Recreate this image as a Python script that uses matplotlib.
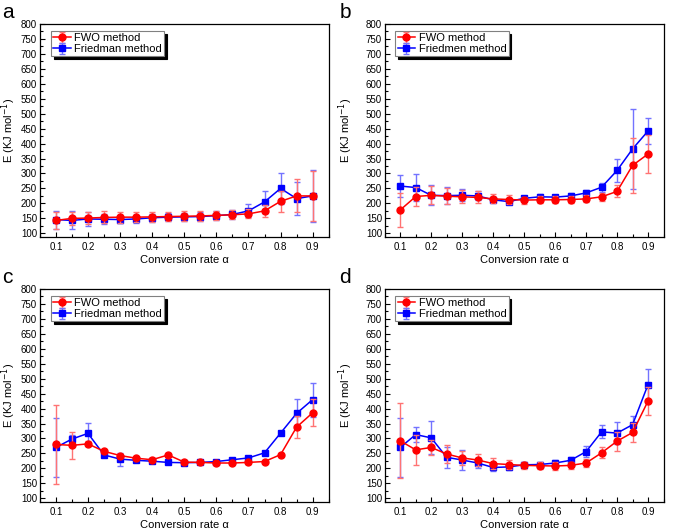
import numpy as np
import matplotlib
matplotlib.use("Agg")
import matplotlib.pyplot as plt
from matplotlib.ticker import MultipleLocator

alpha = [0.1, 0.15, 0.2, 0.25, 0.3, 0.35, 0.4, 0.45, 0.5, 0.55, 0.6, 0.65, 0.7, 0.75, 0.8, 0.85, 0.9]

# panel a
fwo_a = [143, 150, 151, 153, 154, 154, 155, 156, 157, 158, 160, 162, 165, 175, 207, 225, 225]
fwo_a_err = [28, 22, 21, 20, 18, 17, 16, 16, 16, 16, 15, 15, 15, 20, 35, 55, 83]
fri_a = [146, 143, 148, 147, 146, 148, 152, 154, 155, 156, 159, 163, 175, 205, 250, 216, 225]
fri_a_err = [30, 30, 22, 16, 12, 14, 14, 14, 14, 14, 14, 16, 22, 37, 52, 55, 88]

# panel b
fwo_b = [178, 223, 227, 224, 222, 220, 215, 213, 211, 212, 212, 213, 215, 222, 240, 327, 365]
fwo_b_err = [58, 33, 30, 27, 22, 20, 15, 15, 12, 12, 12, 12, 12, 13, 20, 92, 65]
fri_b = [258, 253, 227, 226, 227, 225, 212, 206, 217, 222, 221, 225, 235, 254, 310, 382, 442]
fri_b_err = [36, 46, 33, 28, 20, 15, 8, 8, 8, 10, 8, 10, 10, 15, 38, 135, 45]

# panel c
fwo_c = [280, 277, 282, 257, 243, 234, 229, 245, 221, 220, 218, 218, 220, 223, 246, 338, 386]
fwo_c_err = [133, 45, 8, 5, 5, 5, 5, 5, 4, 4, 4, 4, 4, 4, 5, 38, 45]
fri_c = [270, 298, 317, 245, 231, 227, 224, 220, 219, 220, 223, 229, 235, 252, 318, 384, 430]
fri_c_err = [100, 15, 35, 5, 22, 4, 4, 4, 4, 4, 4, 4, 4, 4, 5, 47, 57]

# panel d
fwo_d = [292, 262, 270, 248, 235, 228, 216, 213, 210, 209, 208, 210, 218, 252, 291, 320, 425]
fwo_d_err = [125, 50, 25, 30, 22, 20, 18, 15, 12, 12, 12, 12, 12, 18, 32, 32, 47]
fri_d = [270, 313, 302, 237, 228, 218, 203, 205, 212, 213, 218, 227, 256, 322, 318, 346, 480]
fri_d_err = [100, 25, 55, 35, 35, 18, 12, 10, 10, 8, 10, 10, 18, 22, 37, 30, 52]

panels = [
    ("a", fwo_a, fwo_a_err, fri_a, fri_a_err, "Friedman method"),
    ("b", fwo_b, fwo_b_err, fri_b, fri_b_err, "Friedmen method"),
    ("c", fwo_c, fwo_c_err, fri_c, fri_c_err, "Friedman method"),
    ("d", fwo_d, fwo_d_err, fri_d, fri_d_err, "Friedman method"),
]

# axes boxes in figure fractions [left, bottom, width, height]
boxes = [
    [0.059, 0.553, 0.428, 0.402],
    [0.570, 0.553, 0.413, 0.402],
    [0.059, 0.053, 0.428, 0.402],
    [0.570, 0.053, 0.413, 0.402],
]
label_pos = [(0.003, 0.995), (0.503, 0.995), (0.003, 0.495), (0.503, 0.495)]
ylab_x = [-0.075, -0.105, -0.075, -0.105]

plt.rcParams['font.family'] = ['Liberation Sans', 'DejaVu Sans']

fig = plt.figure(figsize=(6.75, 5.3), dpi=100)

for (name, fwo, fwo_err, fri, fri_err, fri_label), box, lp, yx in zip(panels, boxes, label_pos, ylab_x):
    ax = fig.add_axes(box)
    ax.errorbar(alpha, fwo, yerr=fwo_err, color='red', marker='o', markersize=5,
                linewidth=1.1, ecolor=(1, 0.45, 0.45), elinewidth=1.0, capsize=2.5,
                capthick=1.0, label='FWO method', zorder=3)
    ax.errorbar(alpha, fri, yerr=fri_err, color='blue', marker='s', markersize=4.5,
                linewidth=1.1, ecolor=(0.45, 0.45, 1), elinewidth=1.0, capsize=2.5,
                capthick=1.0, label=fri_label, zorder=2)
    ax.set_xlim(0.05, 0.95)
    ax.set_ylim(88, 800)
    ax.set_xticks(np.arange(0.1, 0.91, 0.1))
    ax.set_xticklabels(["%.1f" % v for v in np.arange(0.1, 0.91, 0.1)])
    ax.set_yticks(np.arange(100, 801, 50))
    ax.xaxis.set_minor_locator(MultipleLocator(0.05))
    ax.yaxis.set_minor_locator(MultipleLocator(25))
    ax.tick_params(which='both', direction='in', top=False, right=False, labelsize=7)
    ax.tick_params(which='major', length=3.5, width=0.8)
    ax.tick_params(which='minor', length=2, width=0.8)
    ax.tick_params(axis='y', pad=2)
    for sp in ax.spines.values():
        sp.set_linewidth(0.9)
    ax.set_xlabel('Conversion rate α', fontsize=8, labelpad=2)
    ax.set_ylabel('E (KJ mol$^{-1}$)', fontsize=8)
    ax.yaxis.set_label_coords(yx, 0.5)
    leg = ax.legend(loc='upper left', fontsize=8, frameon=True, fancybox=False,
                    shadow={'color': 'black', 'alpha': 1}, borderpad=0.2,
                    handlelength=1.6, handletextpad=0.3, labelspacing=0.1,
                    borderaxespad=0, bbox_to_anchor=(0.038, 0.967))
    leg.get_frame().set_edgecolor('gray')
    leg.get_frame().set_linewidth(0.8)
    fig.text(lp[0], lp[1], name, fontsize=15, ha='left', va='top')

plt.savefig('out.png', dpi=100)
